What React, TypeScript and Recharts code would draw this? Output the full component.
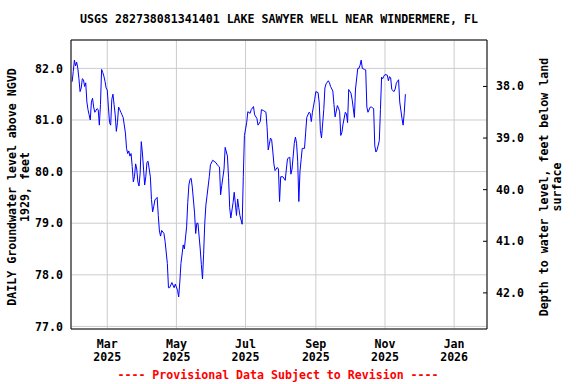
import { CartesianGrid, Line, LineChart, ReferenceLine, XAxis, YAxis } from "recharts"

const dates = [
  "2025-01-29", "2025-01-30", "2025-01-31", "2025-02-01", "2025-02-02", "2025-02-03", "2025-02-04", "2025-02-05",
  "2025-02-06", "2025-02-07", "2025-02-08", "2025-02-09", "2025-02-10", "2025-02-11", "2025-02-12", "2025-02-13",
  "2025-02-14", "2025-02-15", "2025-02-16", "2025-02-17", "2025-02-18", "2025-02-20", "2025-02-21", "2025-02-22",
  "2025-02-23", "2025-02-24", "2025-02-25", "2025-02-26", "2025-02-27", "2025-02-28", "2025-03-01", "2025-03-02",
  "2025-03-03", "2025-03-04", "2025-03-05", "2025-03-06", "2025-03-07", "2025-03-08", "2025-03-09", "2025-03-10",
  "2025-03-11", "2025-03-12", "2025-03-13", "2025-03-14", "2025-03-15", "2025-03-17", "2025-03-18", "2025-03-19",
  "2025-03-20", "2025-03-21", "2025-03-22", "2025-03-23", "2025-03-24", "2025-03-25", "2025-03-26", "2025-03-27",
  "2025-03-28", "2025-03-29", "2025-03-30", "2025-03-31", "2025-04-01", "2025-04-03", "2025-04-04", "2025-04-05",
  "2025-04-06", "2025-04-08", "2025-04-09", "2025-04-10", "2025-04-11", "2025-04-12", "2025-04-14", "2025-04-15",
  "2025-04-16", "2025-04-17", "2025-04-18", "2025-04-20", "2025-04-21", "2025-04-23", "2025-04-24", "2025-04-25",
  "2025-04-27", "2025-04-29", "2025-04-30", "2025-05-02", "2025-05-03", "2025-05-04", "2025-05-05", "2025-05-07",
  "2025-05-08", "2025-05-10", "2025-05-11", "2025-05-12", "2025-05-13", "2025-05-14", "2025-05-15", "2025-05-17",
  "2025-05-18", "2025-05-19", "2025-05-20", "2025-05-22", "2025-05-23", "2025-05-24", "2025-05-25", "2025-05-26",
  "2025-05-27", "2025-05-28", "2025-05-30", "2025-05-31", "2025-06-02", "2025-06-05", "2025-06-06", "2025-06-08",
  "2025-06-09", "2025-06-10", "2025-06-12", "2025-06-13", "2025-06-15", "2025-06-16", "2025-06-17", "2025-06-18",
  "2025-06-20", "2025-06-21", "2025-06-23", "2025-06-24", "2025-06-25", "2025-06-26", "2025-06-28", "2025-06-29",
  "2025-06-30", "2025-07-02", "2025-07-03", "2025-07-05", "2025-07-06", "2025-07-08", "2025-07-09", "2025-07-11",
  "2025-07-12", "2025-07-14", "2025-07-15", "2025-07-17", "2025-07-19", "2025-07-20", "2025-07-21", "2025-07-23",
  "2025-07-24", "2025-07-25", "2025-07-26", "2025-07-27", "2025-07-29", "2025-07-30", "2025-07-31", "2025-08-01",
  "2025-08-03", "2025-08-05", "2025-08-06", "2025-08-07", "2025-08-09", "2025-08-10", "2025-08-11", "2025-08-13",
  "2025-08-14", "2025-08-15", "2025-08-16", "2025-08-17", "2025-08-18", "2025-08-19", "2025-08-20", "2025-08-22",
  "2025-08-23", "2025-08-24", "2025-08-26", "2025-08-27", "2025-08-28", "2025-08-29", "2025-08-31", "2025-09-01",
  "2025-09-03", "2025-09-04", "2025-09-05", "2025-09-06", "2025-09-08", "2025-09-09", "2025-09-10", "2025-09-12",
  "2025-09-13", "2025-09-14", "2025-09-16", "2025-09-17", "2025-09-18", "2025-09-20", "2025-09-21", "2025-09-22",
  "2025-09-23", "2025-09-24", "2025-09-25", "2025-09-27", "2025-09-28", "2025-09-29", "2025-09-30", "2025-10-02",
  "2025-10-03", "2025-10-04", "2025-10-05", "2025-10-06", "2025-10-08", "2025-10-09", "2025-10-10", "2025-10-11",
  "2025-10-12", "2025-10-14", "2025-10-15", "2025-10-16", "2025-10-17", "2025-10-19", "2025-10-20", "2025-10-22",
  "2025-10-23", "2025-10-24", "2025-10-25", "2025-10-27", "2025-10-28", "2025-10-29", "2025-10-30", "2025-10-31",
  "2025-11-01", "2025-11-03", "2025-11-04", "2025-11-05", "2025-11-06", "2025-11-07", "2025-11-09", "2025-11-10",
  "2025-11-11", "2025-11-12", "2025-11-13", "2025-11-14", "2025-11-16", "2025-11-17", "2025-11-18", "2025-11-19",
]

const levels = [
  81.74, 81.94, 82.16, 82.05, 82.12, 82.0, 81.8, 81.55,
  81.62, 81.8, 81.78, 81.65, 81.72, 81.35, 81.2, 81.1,
  81.0, 81.35, 81.42, 81.25, 81.15, 81.22, 81.2, 80.9,
  81.3, 81.98, 81.92, 81.85, 81.75, 81.62, 81.58, 81.25,
  80.95, 80.9, 81.4, 81.5, 81.3, 81.1, 80.78, 80.95,
  81.25, 81.2, 81.15, 81.1, 81.05, 80.75, 80.45, 80.35,
  80.4, 80.3, 80.35, 80.1, 79.8, 79.9, 80.15, 80.05,
  79.8, 79.72, 79.97, 80.58, 80.36, 79.74, 79.9, 80.18,
  80.2, 79.9, 79.46, 79.22, 79.32, 79.45, 79.5, 79.15,
  78.85, 78.75, 78.86, 78.8, 78.65, 78.22, 77.75, 77.75,
  77.85, 77.75, 77.82, 77.7, 77.57, 77.86, 78.22, 78.58,
  78.5, 78.93, 79.4, 79.74, 79.85, 79.87, 79.7, 79.2,
  78.8, 79.0, 79.0, 78.5, 78.2, 77.92, 78.4, 79.0,
  79.35, 79.53, 79.9, 80.13, 80.22, 80.17, 80.13, 80.09,
  79.55, 79.73, 80.05, 80.47, 80.3, 79.88, 79.3, 79.1,
  79.4, 79.6, 79.15, 79.47, 79.3, 79.15, 78.98, 79.9,
  80.7, 80.95, 81.16, 81.13, 81.2, 81.26, 81.1, 81.03,
  80.9, 80.97, 81.2, 81.18, 81.15, 80.85, 80.42, 80.65,
  80.62, 80.4, 80.15, 80.02, 80.08, 80.05, 79.42, 79.9,
  79.9, 79.83, 80.05, 80.25, 80.28, 79.95, 80.05, 80.55,
  80.67, 80.55, 80.2, 79.42, 80.0, 80.23, 80.45, 80.45,
  80.75, 81.05, 81.15, 81.13, 80.97, 81.15, 81.4, 81.55,
  81.53, 81.33, 80.8, 80.65, 81.2, 81.62, 81.7, 81.76,
  81.72, 81.65, 81.56, 81.3, 81.06, 81.28, 81.23, 81.16,
  80.7, 80.76, 80.92, 81.15, 81.12, 80.95, 81.59, 81.52,
  81.4, 81.23, 81.05, 81.6, 82.0, 82.0, 82.06, 82.16,
  82.0, 81.98, 81.97, 81.25, 81.15, 81.25, 81.25, 81.22,
  80.5, 80.38, 80.42, 80.6, 81.2, 81.83, 81.8, 81.85,
  81.88, 81.87, 81.76, 81.84, 81.82, 81.59, 81.55, 81.6,
  81.71, 81.75, 81.78, 81.35, 81.03, 80.9, 81.14, 81.5,
]

const tickDates = ["2025-03-01", "2025-05-01", "2025-07-01", "2025-09-01", "2025-11-01", "2026-01-01"]
const tickMonths = ["Mar", "May", "Jul", "Sep", "Nov", "Jan"]
const tickYears = ["2025", "2025", "2025", "2025", "2025", "2026"]
const levelTicks = [77, 78, 79, 80, 81, 82]
const depthTicks = [38, 39, 40, 41, 42]

// land surface used to turn level into depth below land
const LAND_SURFACE = 119.65
const LEVEL_MIN = 76.95
const LEVEL_MAX = 82.55

const FONT = "'DejaVu Sans Mono', monospace"

const toDay = (s: string) =>
  Date.UTC(+s.slice(0, 4), +s.slice(5, 7) - 1, +s.slice(8, 10)) / 86400000

const data = dates.map((d, i) => ({ day: toDay(d), level: levels[i] }))
const dayTicks = tickDates.map(toDay)

function DateTick({ x, y, payload }: any) {
  const i = dayTicks.indexOf(payload.value)
  return (
    <g>
      <text x={x} y={y + 17} textAnchor="middle" fontFamily={FONT} fontWeight="bold" fontSize={11.6} fill="#000">
        {tickMonths[i]}
      </text>
      <text x={x} y={y + 30} textAnchor="middle" fontFamily={FONT} fontWeight="bold" fontSize={11.6} fill="#000">
        {tickYears[i]}
      </text>
    </g>
  )
}

function DepthTick({ x, y, payload }: any) {
  return (
    <g>
      <line x1={x - 4} y1={y} x2={x} y2={y} stroke="#000" />
      <text x={x + 9} y={y + 4} fontFamily={FONT} fontWeight="bold" fontSize={11.6} fill="#000">
        {Number(payload.value).toFixed(1)}
      </text>
    </g>
  )
}

export default function App() {
  return (
    <div style={{ position: "absolute", left: 0, top: 0, width: 576, height: 384, background: "#fff" }}>
      <LineChart width={576} height={384} data={data} margin={{ top: 40, right: 0, bottom: 0, left: 0 }}>
        <CartesianGrid stroke="#cccccc" yAxisId="left" />
        <XAxis
          dataKey="day"
          type="number"
          domain={[toDay("2025-01-28"), toDay("2026-01-30")]}
          ticks={dayTicks}
          tick={<DateTick />}
          tickLine={false}
          tickSize={0}
          height={55}
          axisLine={{ stroke: "#000" }}
        />
        <YAxis
          yAxisId="left"
          type="number"
          domain={[LEVEL_MIN, LEVEL_MAX]}
          ticks={levelTicks}
          tickFormatter={(v: number) => v.toFixed(1)}
          tick={{ fontFamily: FONT, fontWeight: "bold", fontSize: 11.6, fill: "#000" }}
          tickLine={false}
          tickSize={0}
          tickMargin={8}
          width={71}
          axisLine={{ stroke: "#000" }}
          allowDataOverflow
        />
        <YAxis
          yAxisId="right"
          orientation="right"
          type="number"
          domain={[LAND_SURFACE - LEVEL_MAX, LAND_SURFACE - LEVEL_MIN]}
          reversed
          ticks={depthTicks}
          tick={<DepthTick />}
          tickLine={false}
          tickSize={0}
          tickMargin={0}
          width={89}
          axisLine={{ stroke: "#000" }}
          allowDataOverflow
        />
        <ReferenceLine yAxisId="left" y={LEVEL_MAX} stroke="#000" />
        <Line
          yAxisId="left"
          type="linear"
          dataKey="level"
          stroke="#0000ff"
          strokeWidth={1}
          dot={false}
          isAnimationActive={false}
        />
      </LineChart>
      <svg
        width={576}
        height={384}
        style={{ position: "absolute", left: 0, top: 0, pointerEvents: "none" }}
        fontFamily={FONT}
        fontWeight="bold"
        fontSize={11.6}
      >
        <text x={279} y={23} textAnchor="middle" fill="#000">
          USGS 282738081341401 LAKE SAWYER WELL NEAR WINDERMERE, FL
        </text>
        <text transform="translate(16,187) rotate(-90)" textAnchor="middle" fill="#000">
          DAILY Groundwater level above NGVD
        </text>
        <text transform="translate(29,187) rotate(-90)" textAnchor="middle" fill="#000">
          1929, feet
        </text>
        <text transform="translate(548,187) rotate(-90)" textAnchor="middle" fill="#000">
          Depth to water level, feet below land
        </text>
        <text transform="translate(561,187) rotate(-90)" textAnchor="middle" fill="#000">
          surface
        </text>
        <text x={278} y={379} textAnchor="middle" fill="#ff0000">
          ---- Provisional Data Subject to Revision ----
        </text>
      </svg>
    </div>
  )
}
